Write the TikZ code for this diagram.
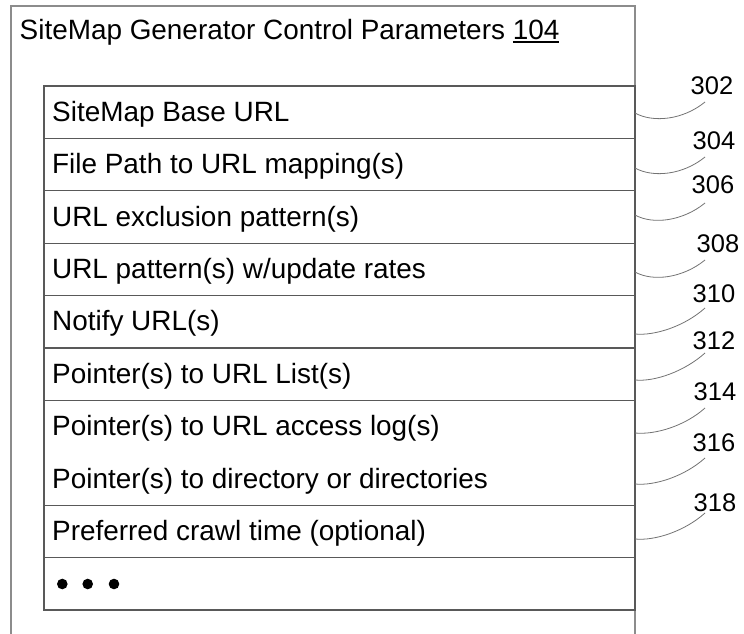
\documentclass[tikz,border=0pt]{standalone}
\usepackage{fontspec}
\setmainfont{Liberation Sans}
\newcommand\myul[1]{\setbox0\hbox{#1}\rlap{\rule[-3.6pt]{\wd0}{1.8pt}}\box0}
\tikzset{
  outerframe/.style={draw=black!45, line width=1.4pt},
  innerframe/.style={draw=black!65, line width=1.3pt},
  rowsep/.style={draw=black!65, line width=1.2pt},
  rowtext/.style={anchor=base west, inner sep=0pt, font=\fontsize{27.9}{33}\selectfont},
  reflabel/.style={inner sep=0pt, font=\fontsize{25.5}{30}\selectfont},
  leader/.style={draw=black!55, line width=0.8pt},
  bigdot/.style={fill=black, draw=none, circle, minimum size=10.6pt, inner sep=0pt}
}
\begin{document}
\begin{tikzpicture}[x=1pt,y=-1pt]
\useasboundingbox (0,0) rectangle (744,634);
% outer frame (open at bottom)
\draw[outerframe] (11,634) -- (11,6) -- (635,6) -- (635,634);
\node[rowtext] (title) at (19.5,39.5) {SiteMap Generator Control Parameters \myul{104}};
% inner table
\draw[innerframe] (44,86) rectangle (635,610);
\foreach \y in {138.4,190.8,243.2,295.6,348.0,400.4,505.2,557.6}
  \draw[rowsep] (44,\y) -- (635,\y);
\node[rowtext] (row302) at (52,121.2) {SiteMap Base URL};
\node[rowtext] (row304) at (52,173.6) {File Path to URL mapping(s)};
\node[rowtext] (row306) at (52,226.0) {URL exclusion pattern(s)};
\node[rowtext] (row308) at (52,278.4) {URL pattern(s) w/update rates};
\node[rowtext] (row310) at (52,330.8) {Notify URL(s)};
\node[rowtext] (row312) at (52,383.2) {Pointer(s) to URL List(s)};
\node[rowtext] (row314) at (52,435.6) {Pointer(s) to URL access log(s)};
\node[rowtext] (row316) at (52,488.0) {Pointer(s) to directory or directories};
\node[rowtext] (row318) at (52,540.4) {Preferred crawl time (optional)};
\node[bigdot] (dot1) at (62.3,584) {};
\node[bigdot] (dot2) at (87.7,584) {};
\node[bigdot] (dot3) at (114,584) {};
% reference labels
\node[reflabel] (l302) at (712,86) {302};
\node[reflabel] (l304) at (714,141) {304};
\node[reflabel] (l306) at (713,185) {306};
\node[reflabel] (l308) at (718,244) {308};
\node[reflabel] (l310) at (714,294) {310};
\node[reflabel] (l312) at (714,341) {312};
\node[reflabel] (l314) at (715,392) {314};
\node[reflabel] (l316) at (714,443) {316};
\node[reflabel] (l318) at (715,503) {318};
% leader end points
\coordinate (s302) at (635,113); \coordinate (e302) at (705,102);
\coordinate (s304) at (635,168); \coordinate (e304) at (705,157);
\coordinate (s306) at (635,215); \coordinate (e306) at (705,203);
\coordinate (s308) at (635,272); \coordinate (e308) at (705,260);
\coordinate (s310) at (635,334); \coordinate (e310) at (705,308);
\coordinate (s312) at (635,380); \coordinate (e312) at (705,353);
\coordinate (s314) at (635,433); \coordinate (e314) at (705,408);
\coordinate (s316) at (635,484); \coordinate (e316) at (705,458);
\coordinate (s318) at (635,539); \coordinate (e318) at (705,513);
\foreach \n in {302,304,306,308}
  \draw[leader] (s\n) .. controls +(18,10) and +(-22,18) .. (e\n);
\foreach \n in {310,312,314,316,318}
  \draw[leader] (s\n) .. controls +(20,2) and +(-20,18) .. (e\n);
\end{tikzpicture}
\end{document}
